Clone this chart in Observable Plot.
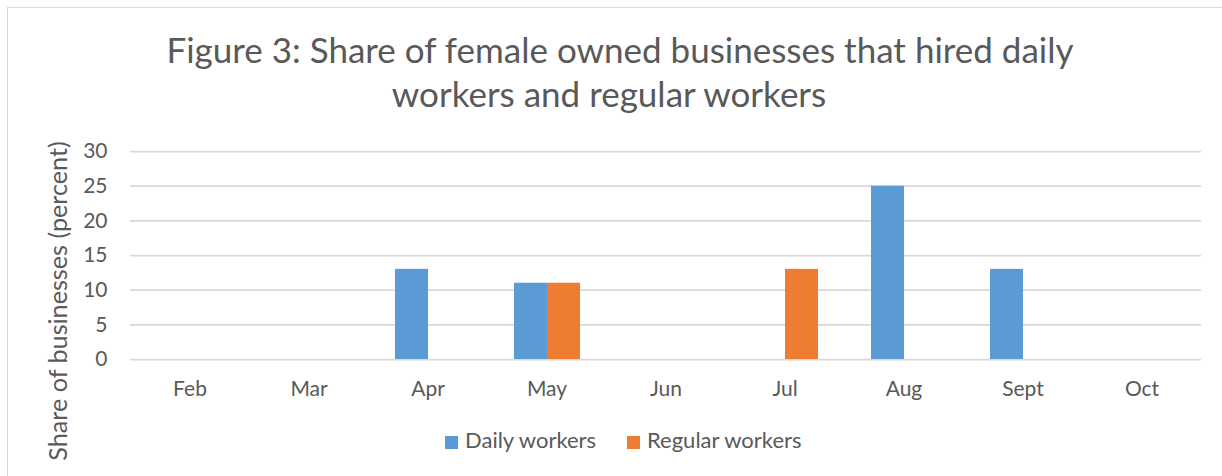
<!DOCTYPE html>
<html>
<head>
<meta charset="utf-8">
<script src="https://cdn.jsdelivr.net/npm/d3@7"></script>
<script src="https://cdn.jsdelivr.net/npm/@observablehq/plot@0.6"></script>
<style>
  html, body { margin: 0; padding: 0; background: #fff; }
  body { width: 1222px; height: 476px; position: relative; overflow: hidden; font-family: Lato, "Open Sans", sans-serif; color: #595959; }
  #frame { position: absolute; left: 7px; top: 7px; width: 1400px; height: 600px; border: 1px solid #d9d9d9; box-sizing: border-box; }
  .title { position: absolute; left: 0; width: 1240px; text-align: center; font-size: 35px; line-height: 1.2; white-space: nowrap; }
  #ylab { position: absolute; left: 57px; top: 301px; width: 0; height: 0; }
  #ylab span { position: absolute; left: 0; top: 0; white-space: nowrap; font-size: 25.2px; line-height: 1.2; transform: translate(-50%, -50%) rotate(-90deg); }
  #chart { position: absolute; left: 0; top: 130px; }
  .leg { position: absolute; font-size: 22px; line-height: 1.2; white-space: nowrap; }
  .sw { position: absolute; width: 13px; height: 13px; }
</style>
</head>
<body>
<div id="frame"></div>
<div class="title" id="t1" style="top:28px;"></div>
<div class="title" id="t2" style="top:72px;width:1218px;"></div>
<div id="ylab"><span></span></div>
<div id="chart"></div>
<div id="legend"></div>
<script>
const titleLines = ["Figure 3: Share of female owned businesses that hired daily", "workers and regular workers"];
const yLabel = "Share of businesses (percent)";
const months = ["Feb", "Mar", "Apr", "May", "Jun", "Jul", "Aug", "Sept", "Oct"];
const seriesNames = ["Daily workers", "Regular workers"];
const dailyWorkers = [0, 0, 13, 11, 0, 0, 25, 13, 0];
const regularWorkers = [0, 0, 0, 11, 0, 13, 0, 0, 0];
const yTicks = [0, 5, 10, 15, 20, 25, 30];
const colors = ["#5B9BD5", "#ED7D31"];

document.getElementById("t1").textContent = titleLines[0];
document.getElementById("t2").textContent = titleLines[1];
document.querySelector("#ylab span").textContent = yLabel;

const data = [];
months.forEach((m, i) => {
  data.push({month: m, series: seriesNames[0], value: dailyWorkers[i]});
  data.push({month: m, series: seriesNames[1], value: regularWorkers[i]});
});

const chart = Plot.plot({
  width: 1222,
  height: 280,
  marginTop: 21,
  marginBottom: 51,
  marginLeft: 128,
  marginRight: 19,
  style: {fontFamily: "Lato, 'Open Sans', sans-serif", fontSize: "21px", color: "#595959", background: "transparent", overflow: "visible"},
  fx: {domain: months, padding: 0, label: null},
  x: {domain: seriesNames, axis: null, paddingInner: 0, paddingOuter: 0.756},
  y: {domain: [0, 30], label: null},
  color: {domain: seriesNames, range: colors},
  marks: [
    Plot.gridY(yTicks, {stroke: "#d9d9d9", strokeOpacity: 1, strokeWidth: 1.75}),
    Plot.axisY(yTicks, {tickSize: 0, tickPadding: 23, label: null, fontSize: 21}),
    Plot.axisFx({anchor: "bottom", tickSize: 0, tickPadding: 22, label: null, fontSize: 21}),
    Plot.barY(data, {fx: "month", x: "series", y: "value", fill: "series"})
  ]
});
document.getElementById("chart").appendChild(chart);

// legend
const legend = document.getElementById("legend");
const legX = [445, 627];
seriesNames.forEach((name, i) => {
  const sw = document.createElement("div");
  sw.className = "sw";
  sw.style.left = legX[i] + "px";
  sw.style.top = "436px";
  sw.style.background = colors[i];
  legend.appendChild(sw);
  const t = document.createElement("div");
  t.className = "leg";
  t.style.left = (legX[i] + 20) + "px";
  t.style.top = "427px";
  t.textContent = name;
  legend.appendChild(t);
});
</script>
</body>
</html>
